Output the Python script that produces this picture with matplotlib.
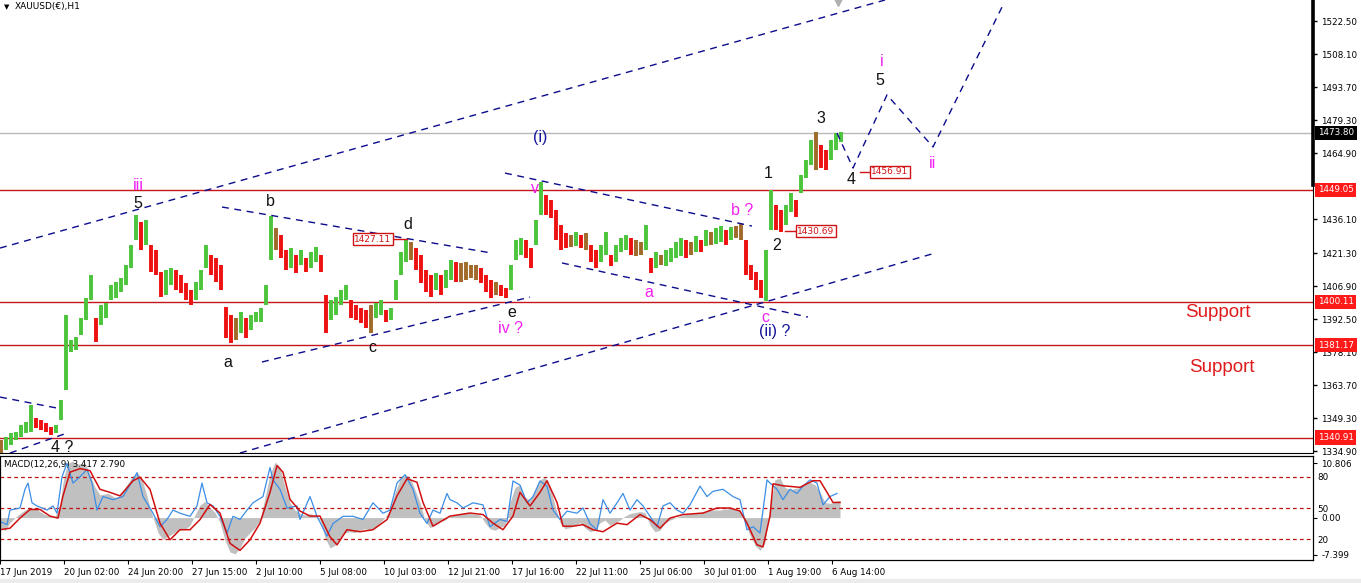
import numpy as np
import matplotlib.pyplot as plt
from matplotlib import transforms
from matplotlib.patches import Rectangle

plt.rcParams['font.family'] = ['Liberation Sans', 'DejaVu Sans']
axis_font = 'DejaVu Sans'

# hourly bars, one sample every 5 bars (x axis = bar index, ~1 px per bar)
bar_step = 5
bar_high = [
    1339.9, 1341.2, 1342.9, 1343.4, 1346.4, 1347.7, 1355.1, 1349.5, 1348.6, 1347.3,
    1345.5, 1346.4, 1357.3, 1394.4, 1383.5, 1384.8, 1393.1, 1401.8, 1411.8, 1393.1,
    1398.8, 1399.6, 1407.5, 1408.8, 1410.5, 1416.2, 1424.9, 1438.0, 1435.0, 1435.8,
    1424.9, 1422.7, 1413.2, 1414.0, 1414.9, 1414.0, 1411.8, 1408.4, 1405.3, 1408.8,
    1414.0, 1424.9, 1420.6, 1419.3, 1416.2, 1397.9, 1394.4, 1393.1, 1395.7, 1393.1,
    1394.4, 1395.7, 1397.5, 1407.5, 1437.6, 1432.3, 1429.3, 1422.7, 1423.6, 1420.6,
    1422.7, 1419.3, 1421.9, 1424.1, 1420.6, 1403.1, 1400.9, 1402.2, 1405.3, 1407.5,
    1400.9, 1398.8, 1397.5, 1396.6, 1398.8, 1399.6, 1400.9, 1396.6, 1397.5, 1409.7,
    1421.9, 1427.1, 1426.2, 1423.6, 1420.6, 1414.0, 1411.8, 1412.7, 1411.8, 1414.0,
    1418.4, 1417.5, 1417.1, 1417.5, 1416.2, 1416.2, 1414.9, 1411.8, 1409.7, 1408.8,
    1407.5, 1406.2, 1416.2, 1427.1, 1428.0, 1427.1, 1423.6, 1435.8, 1452.4, 1446.7,
    1444.6, 1440.2, 1433.7, 1430.2, 1429.3, 1430.6, 1429.3, 1430.2, 1424.9, 1422.7,
    1424.9, 1430.6, 1420.6, 1424.9, 1428.0, 1429.3, 1428.0, 1427.1, 1426.2, 1433.7,
    1419.3, 1421.9, 1420.6, 1422.7, 1423.6, 1426.2, 1428.0, 1427.1, 1426.2, 1428.9,
    1427.1, 1431.5, 1430.6, 1432.3, 1433.2, 1431.5, 1432.8, 1433.2, 1434.1, 1427.1,
    1416.2, 1413.2, 1409.7, 1422.7, 1448.9, 1442.4, 1440.2, 1442.4, 1447.6, 1444.6,
    1455.5, 1462.0, 1470.7, 1474.2, 1468.5, 1466.4, 1470.7, 1473.8, 1474.2,
]
bar_low = [
    1334.2, 1335.5, 1337.7, 1339.9, 1341.2, 1342.9, 1343.4, 1345.1, 1344.2, 1343.4,
    1342.1, 1342.9, 1348.6, 1361.7, 1378.3, 1379.1, 1385.7, 1392.2, 1400.9, 1382.6,
    1390.0, 1393.1, 1400.9, 1401.8, 1404.4, 1407.5, 1414.9, 1427.1, 1422.7, 1424.9,
    1413.2, 1411.8, 1402.2, 1403.1, 1407.5, 1405.3, 1404.0, 1400.9, 1398.8, 1400.9,
    1405.3, 1414.9, 1411.8, 1408.8, 1405.3, 1384.4, 1382.2, 1383.5, 1386.5, 1384.4,
    1387.9, 1391.3, 1391.3, 1398.8, 1418.4, 1422.7, 1419.3, 1414.0, 1414.9, 1412.7,
    1416.2, 1413.2, 1414.9, 1417.5, 1413.2, 1386.5, 1392.2, 1394.4, 1398.8, 1400.9,
    1393.1, 1392.2, 1390.9, 1388.7, 1386.5, 1393.1, 1394.4, 1391.3, 1392.2, 1400.9,
    1411.8, 1417.5, 1418.4, 1414.0, 1408.4, 1404.4, 1402.2, 1405.3, 1403.1, 1406.2,
    1409.7, 1408.8, 1408.8, 1409.7, 1410.5, 1409.7, 1408.4, 1404.4, 1401.8, 1403.1,
    1402.7, 1401.8, 1405.3, 1418.4, 1420.6, 1419.3, 1414.9, 1424.9, 1438.0, 1438.0,
    1436.7, 1427.1, 1422.7, 1423.6, 1424.1, 1424.5, 1423.6, 1422.7, 1417.5, 1414.9,
    1417.5, 1420.6, 1415.8, 1417.5, 1421.9, 1422.7, 1420.6, 1420.1, 1420.6, 1422.7,
    1412.7, 1414.9, 1416.2, 1415.8, 1417.5, 1419.3, 1420.1, 1419.3, 1420.6, 1421.9,
    1421.9, 1424.5, 1424.9, 1425.4, 1426.2, 1424.9, 1427.1, 1428.0, 1427.1, 1411.8,
    1409.7, 1405.3, 1401.8, 1400.5, 1431.5, 1431.5, 1430.6, 1433.7, 1439.3, 1437.1,
    1447.6, 1454.2, 1459.8, 1457.6, 1458.5, 1457.6, 1462.0, 1466.4, 1469.9,
]

level_prices = [1449.05, 1400.11, 1381.17, 1340.91]
last_price = 1473.80
price_ticks = [1522.50, 1508.10, 1493.70, 1479.30, 1464.90, 1436.10, 1421.30,
               1406.90, 1392.50, 1378.10, 1363.70, 1349.30, 1334.90]
date_labels = ['17 Jun 2019', '20 Jun 02:00', '24 Jun 20:00', '27 Jun 15:00',
               '2 Jul 10:00', '5 Jul 08:00', '10 Jul 03:00', '12 Jul 21:00',
               '17 Jul 16:00', '22 Jul 11:00', '25 Jul 06:00', '30 Jul 01:00',
               '1 Aug 19:00', '6 Aug 14:00']

# MACD main (grey histogram)
hist_x = [0, 5, 10, 15, 20, 25, 30, 35, 40, 45, 50, 55, 60, 63, 67, 72, 78, 85, 90, 95,
          100, 108, 115, 120, 127, 133, 138, 143, 148, 153, 158, 163, 170, 178, 185, 190,
          195, 200, 205, 210, 215, 220, 225, 230, 235, 240, 245, 250, 255, 260, 265, 270,
          275, 280, 285, 290, 295, 300, 305, 310, 315, 320, 325, 330, 335, 340, 345, 350,
          355, 360, 365, 370, 375, 380, 385, 390, 395, 400, 405, 410, 415, 420, 425, 430,
          435, 440, 445, 450, 460, 470, 480, 485, 490, 495, 500, 505, 510, 515, 520, 525,
          530, 535, 540, 545, 550, 555, 560, 565, 570, 575, 580, 585, 590, 595, 600, 605,
          610, 615, 620, 625, 630, 640, 645, 650, 655, 660, 665, 670, 680, 690, 700, 710,
          720, 730, 740, 745, 750, 755, 760, 765, 770, 775, 780, 785, 790, 800, 810, 815,
          820, 825, 830, 835, 840]
hist_y = [-2.0, -2.6, -1.0, 0.0, 0.8, 1.5, 2.0, 1.8, 1.2, 0.6, 0.3, 0.2, 2.5, 7.0, 10.5,
          11.2, 10.6, 10.8, 8.5, 6.0, 4.5, 4.8, 4.0, 4.3, 6.5, 8.3, 8.8, 7.0, 3.5, 0.0,
          -3.0, -4.3, -3.5, -2.5, -2.3, -1.5, 0.5, 2.5, 3.2, 2.0, 1.0, -1.0, -4.5, -6.8,
          -7.2, -6.0, -4.0, -3.0, -2.0, -0.5, 4.0, 8.5, 11.0, 10.0, 6.0, 3.0, 1.5, 0.8,
          0.5, 0.8, 0.5, -0.5, -4.0, -6.0, -5.5, -4.0, -3.0, -2.8, -3.0, -2.5, -2.2, -2.5,
          -2.0, -1.0, 0.0, 1.5, 5.0, 7.5, 8.5, 8.0, 5.5, 3.0, -0.5, -2.0, -1.5, -0.8, -0.5,
          0.3, 0.8, 0.8, 0.5, -1.0, -2.2, -2.5, -2.0, -1.5, 3.0, 6.0, 6.5, 4.0, 3.5, 5.5,
          7.5, 8.0, 6.0, 2.5, -1.0, -2.2, -2.0, -1.5, -1.0, -2.0, -2.8, -2.5, -1.0, -0.5,
          -1.5, -1.0, -0.5, 0.3, 0.8, 1.2, 1.0, -1.5, -2.8, -2.5, -1.0, -0.5, 0.3, 0.8,
          1.0, 1.5, 1.5, 1.8, 1.5, -1.0, -3.5, -5.5, -6.5, -5.0, 2.0, 7.5, 7.8, 6.0, 5.5,
          6.0, 7.0, 6.5, 5.0, 3.0, 2.8, 3.2, 3.4]

# MACD signal (red line)
signal_x = [0, 10, 20, 30, 40, 50, 58, 63, 70, 80, 90, 100, 110, 120, 133, 140, 150, 160,
            170, 180, 190, 200, 210, 220, 230, 240, 250, 260, 270, 277, 283, 290, 300,
            310, 320, 330, 337, 347, 360, 373, 387, 397, 407, 417, 423, 433, 450, 470,
            483, 493, 503, 513, 520, 530, 540, 547, 557, 563, 573, 583, 593, 603, 617,
            627, 640, 650, 660, 670, 683, 703, 717, 730, 740, 747, 757, 763, 770, 773,
            783, 800, 813, 820, 827, 833, 840]
signal_y = [-2.4, -2.1, -0.1, 1.6, 1.6, 0.3, -0.1, 4.3, 9.0, 9.7, 9.3, 5.6, 5.0, 4.3, 7.3,
            8.0, 5.6, -1.1, -4.4, -2.4, -2.4, -0.4, 2.6, 0.9, -5.1, -6.5, -4.4, -1.1, 5.0,
            10.3, 9.0, 3.6, 1.3, 0.3, 0.3, -3.8, -5.4, -2.4, -2.8, -2.4, -0.4, 4.3, 7.7,
            7.0, 3.0, -1.7, 0.3, 0.9, 0.6, -1.1, -2.4, 0.3, 5.0, 2.3, 5.0, 7.3, 3.0, -1.7,
            -1.7, -1.4, -2.4, -2.8, -1.1, -1.4, 0.6, -0.4, -2.1, -0.1, 0.6, 0.9, 1.9, 1.9,
            1.3, -1.1, -5.4, -5.8, 0.3, 6.7, 6.3, 6.0, 7.3, 7.3, 5.0, 3.0, 3.0]

# oscillator drawn in the same window (blue line, 0..100 scale)
osc_x = [0, 7, 10, 20, 25, 28, 32, 37, 47, 53, 57, 62, 67, 73, 80, 87, 92, 97, 103, 113,
         123, 133, 137, 143, 153, 160, 167, 173, 180, 190, 197, 202, 207, 213, 220, 227,
         233, 240, 247, 253, 263, 270, 273, 280, 287, 297, 300, 310, 317, 327, 333, 343,
         353, 363, 373, 383, 390, 397, 405, 413, 420, 427, 433, 440, 447, 450, 457, 463,
         473, 483, 490, 500, 507, 513, 520, 527, 533, 540, 547, 553, 560, 567, 577, 583,
         590, 597, 603, 610, 617, 623, 630, 637, 643, 650, 657, 663, 670, 677, 683, 690,
         700, 707, 713, 723, 733, 740, 747, 753, 760, 767, 770, 777, 783, 790, 797, 803,
         810, 817, 823, 830, 837]
osc_y = [37, 34, 48, 50, 68, 74, 55, 52, 48, 52, 45, 80, 93, 74, 80, 87, 74, 48, 61, 58,
         61, 77, 84, 61, 45, 32, 39, 48, 45, 42, 52, 74, 55, 52, 42, 26, 42, 39, 48, 55,
         61, 89, 77, 68, 50, 52, 39, 61, 42, 23, 35, 42, 42, 39, 55, 45, 48, 74, 82, 68,
         45, 35, 48, 45, 64, 58, 55, 50, 55, 53, 32, 39, 37, 76, 72, 55, 61, 76, 71, 48,
         39, 47, 45, 50, 35, 29, 58, 45, 55, 64, 48, 58, 52, 42, 32, 52, 55, 48, 45, 53,
         71, 61, 66, 68, 61, 58, 29, 32, 26, 77, 74, 68, 58, 68, 64, 71, 77, 74, 53, 61, 64]

W, H = 1361, 583
fig = plt.figure(figsize=(W / 100, H / 100), dpi=100)
fig.patch.set_facecolor('white')
ax = fig.add_axes([0, 1 - 453 / H, 1313 / W, 453 / H])
axm = fig.add_axes([0, 1 - 560 / H, 1313 / W, 104 / H])

ax.set_xlim(0, 1313)
ax.set_ylim(1334.2, 1531.8)

# price bars
x = np.arange(len(bar_high)) * bar_step + 1
hi = np.array(bar_high)
lo = np.array(bar_low)
mid = (hi + lo) / 2
chg = np.diff(mid, prepend=mid[0])
cols = np.where(chg > 0.8, '#4cc43c', np.where(chg < -0.8, '#ee1111', '#a06a2a'))
ax.vlines(x, lo, hi, colors=cols, lw=2.8, zorder=3)

# horizontal levels
ax.axhline(last_price, color='#b8b8b8', lw=1, zorder=1)
for p in level_prices:
    ax.axhline(p, color='#c4161c', lw=1, zorder=2)

# wave drawings (dashed)
navy = '#0c0c8c'
dash = (0, (5, 4))
lines = [
    ([0, 885], [1423.6, 1531.8]),
    ([240, 935], [1334.2, 1421.4]),
    ([222, 492], [1441.5, 1421.4]),
    ([262, 530], [1373.9, 1402.2]),
    ([505, 752], [1456.3, 1433.2]),
    ([562, 808], [1417.1, 1393.5]),
    ([0, 57], [1358.6, 1353.8]),
    ([10, 67], [1334.2, 1342.9]),
    ([837, 853, 887, 933, 1003], [1473.8, 1458.5, 1490.4, 1467.7, 1529.6]),
]
for lx, ly in lines:
    ax.plot(lx, ly, color=navy, lw=1, ls=dash, zorder=4)

magenta = '#f020f0'
black = '#111111'
blue = '#14149c'
labels = [
    (138, 1450.7, 'iii', magenta), (138, 1443.2, '5', black), (62, 1336.4, '4 ?', black),
    (228, 1373.5, 'a', black), (270, 1443.7, 'b', black), (372, 1380.4, 'c', black),
    (408, 1433.7, 'd', black), (512, 1395.7, 'e', black), (510, 1388.7, 'iv ?', magenta),
    (540, 1472.0, '(i)', blue), (535, 1449.4, 'v', magenta), (649, 1404.0, 'a', magenta),
    (742, 1439.8, 'b ?', magenta), (765, 1393.1, 'c', magenta), (775, 1387.4, '(ii) ?', blue),
    (768, 1456.3, '1', black), (777, 1424.9, '2', black), (821, 1480.3, '3', black),
    (851, 1453.3, '4', black), (880, 1496.9, '5', black), (882, 1504.8, 'i', magenta),
    (933, 1460.3, 'ii', magenta),
]
for lx, ly, s, c in labels:
    ax.text(lx, ly, s, color=c, fontsize=11.5, ha='center', va='center', zorder=5)

# price call-outs
red = '#d01414'
for bx, by, s, x0, x1 in [(373, 1427.5, '1427.11', 394, 407),
                          (816, 1431.0, '1430.69', 785, 795),
                          (890, 1456.8, '1456.91', 860, 870)]:
    ax.text(bx, by, s, color=red, fontsize=6.5, ha='center', va='center', zorder=6,
            family=axis_font,
            bbox=dict(boxstyle='square,pad=0.2', fc='white', ec=red, lw=1))
    ax.plot([x0, x1], [by, by], color=red, lw=1, zorder=5)

ax.text(1218, 1395.3, 'Support', color='#e01b1b', fontsize=13.5, ha='center', va='center')
ax.text(1222, 1371.7, 'Support', color='#e01b1b', fontsize=13.5, ha='center', va='center')

# right price axis
for side in ['left', 'top']:
    ax.spines[side].set_visible(False)
ax.spines['right'].set_color('black')
ax.spines['bottom'].set_color('black')
ax.tick_params(axis='x', bottom=False, labelbottom=False)
ax.yaxis.tick_right()
ax.set_yticks(price_ticks)
ax.set_yticklabels([f'{t:.2f}' for t in price_ticks], family=axis_font)
ax.tick_params(axis='y', length=3, width=1, labelsize=6.3, pad=3)

tr = transforms.blended_transform_factory(ax.transAxes, ax.transData)
ax.plot([1.0, 1.0], [1531.8, 1451.0], transform=tr, color='black', lw=2.6,
        clip_on=False, zorder=6)
ax.text(1.0038, last_price, f'{last_price:.2f}', transform=tr, color='white',
        fontsize=6.3, va='center', ha='left', clip_on=False, zorder=7, family=axis_font,
        bbox=dict(boxstyle='square,pad=0.3', fc='black', ec='none'))
for p in level_prices:
    ax.text(1.0038, p, f'{p:.2f}', transform=tr, color='white', fontsize=6.3,
            va='center', ha='left', clip_on=False, zorder=7, family=axis_font,
            bbox=dict(boxstyle='square,pad=0.3', fc='#ff1a1a', ec='none'))
ax.plot([838], [1531.8], marker='v', color='#b0b0b0', ms=9, clip_on=False)

# MACD window
axm.set_xlim(0, 1313)
axm.set_ylim(-8.4, 12.2)
axm.fill_between(hist_x, 0, hist_y, color='#c0c0c0', lw=0, zorder=1)
axo = axm.twinx()
axo.set_ylim(0, 100)
for lv in [80, 50, 20]:
    axo.axhline(lv, color='#c01010', lw=0.9, ls=(0, (3, 2.5)))
axo.plot(osc_x, osc_y, color='#3b8ee6', lw=0.9)
axo.plot(signal_x, (np.array(signal_y) + 8.4) * 100 / 20.6, color='#d01010', lw=1.1)

axm.yaxis.tick_right()
axm.set_yticks([10.806, 0.0, -7.399])
axm.set_yticklabels(['10.806', '0.00', '-7.399'], family=axis_font)
axm.tick_params(axis='y', length=3, labelsize=6.3, pad=3)
axo.set_yticks([80, 50, 20])
axo.set_yticklabels(['80', '50', '20'], family=axis_font)
axo.tick_params(axis='y', length=0, labelsize=6.3, pad=3)
axm.set_xticks(np.arange(len(date_labels)) * 64)
axm.set_xticklabels(date_labels, family=axis_font)
for t in axm.get_xticklabels():
    t.set_horizontalalignment('left')
axm.tick_params(axis='x', length=3, labelsize=6.3, pad=3)
for a in (axm, axo):
    for s in a.spines.values():
        s.set_color('black')
axm.text(0.003, 0.923, 'MACD(12,26,9) 3.417 2.790', transform=axm.transAxes,
         fontsize=6.3, va='center', ha='left', family=axis_font)

fig.text(15 / W, 1 - 7 / H, 'XAUUSD(€),H1', fontsize=6.5, va='center', ha='left',
         family=axis_font)
fig.text(4 / W, 1 - 7 / H, '▼', fontsize=5, va='center', ha='left',
         family='DejaVu Sans')
fig.patches.append(Rectangle((0, 0), 1, 4 / H, transform=fig.transFigure,
                             color='#ececec', zorder=0))

plt.savefig('out.png', dpi=100)
